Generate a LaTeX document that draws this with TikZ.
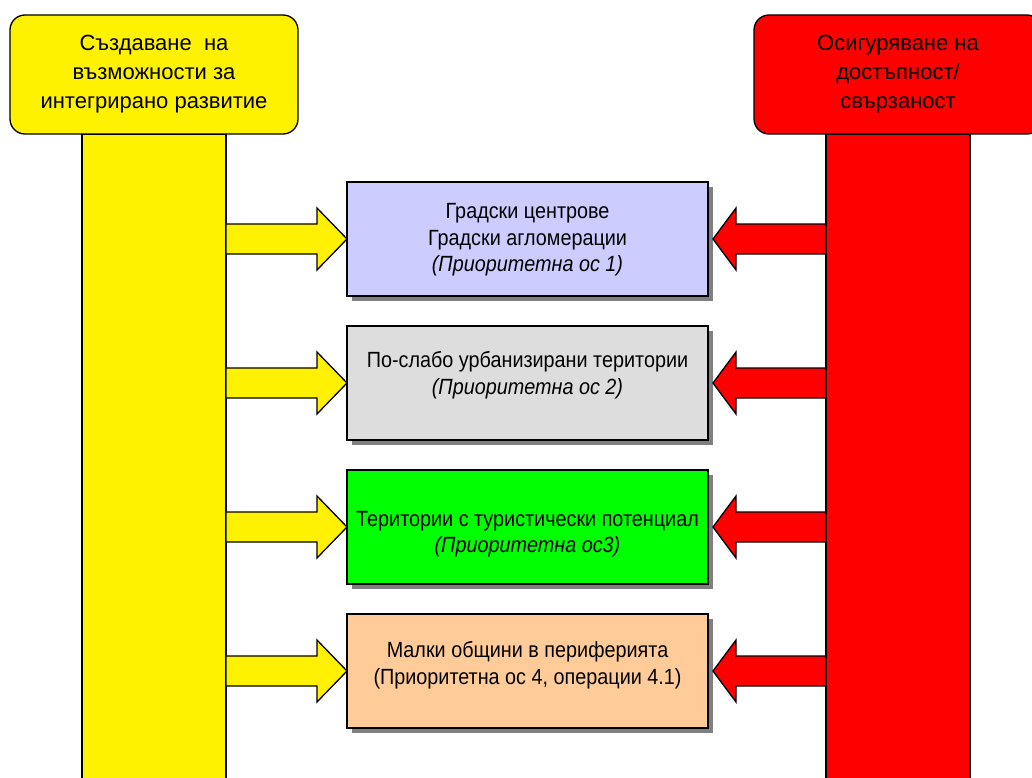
\documentclass[tikz,border=0pt]{standalone}
\usepackage{fontspec}
\setmainfont{Liberation Sans}
\newfontfamily\narrowsans[FakeStretch=0.9]{Liberation Sans}
\usetikzlibrary{calc,shadows}
\definecolor{boxA}{HTML}{CCCCFF}
\definecolor{boxB}{HTML}{DDDDDD}
\definecolor{boxC}{HTML}{00FF00}
\definecolor{boxD}{HTML}{FFCC99}
\definecolor{shade}{HTML}{808080}
\begin{document}
\begin{tikzpicture}[x=1pt,y=-1pt,
  outline/.style={draw=black,line width=1.3pt,line join=miter},
  headbox/.style={outline,rounded corners=15pt,minimum width=288pt,minimum height=119pt,outer sep=0pt,align=center,
     font=\fontsize{22}{29}\selectfont},
  barbox/.style={outline,minimum width=144pt,minimum height=680pt,anchor=north,outer sep=0pt},
  areabox/.style={outline,minimum width=361pt,minimum height=114pt,outer sep=0pt,
     drop shadow={shadow xshift=5pt,shadow yshift=-5pt,fill=shade,opacity=1}},
  areatext/.style={align=center,font=\narrowsans\fontsize{22}{26.5}\selectfont},
  yarr/.style={outline,fill=yellow},
  rarr/.style={outline,fill=red}]
\useasboundingbox (0,0) rectangle (1032,778);
\clip (0,0) rectangle (1032,778);
\fill[white] (0,0) rectangle (1032,778);

% bars
\node[barbox,fill=yellow] (lbar) at (154,134) {};
\node[barbox,fill=red] (rbar) at (898,134) {};

% headers
\node[headbox,fill=yellow] (lhead) at (154,74.5) {Създаване\ \ на\\възможности за\\интегрирано развитие};
\node[headbox,fill=red] (rhead) at (898,74.5) {Осигуряване на\\достъпност/\\свързаност};

% area boxes
\node[areabox,fill=boxA] (b1) at (527.5,239) {};
\node[areabox,fill=boxB] (b2) at (527.5,383) {};
\node[areabox,fill=boxC] (b3) at (527.5,527) {};
\node[areabox,fill=boxD] (b4) at (527.5,671) {};

\node[areatext] (t1) at (527.5,240) {Градски центрове\\Градски агломерации\\\textit{(Приоритетна ос 1)}};
\node[areatext] (t2) at (527.5,375) {По-слабо урбанизирани територии\\\textit{(Приоритетна ос 2)}};
\node[areatext] (t3) at (527.5,534) {Територии с туристически потенциал\\\textit{(Приоритетна ос3)}};
\node[areatext] (t4) at (527.5,665) {Малки общини в периферията\\(Приоритетна ос 4, операции 4.1)};

% arrows
\foreach \b in {b1,b2,b3,b4} {
  \draw[yarr] ($(lbar.east |- \b.west)+(0,-15)$) -- ($(\b.west)+(-30,-15)$) -- ($(\b.west)+(-30,-31)$)
     -- (\b.west) -- ($(\b.west)+(-30,31)$) -- ($(\b.west)+(-30,15)$) -- ($(lbar.east |- \b.west)+(0,15)$) -- cycle;
  \draw[rarr] ($(rbar.west |- \b.east)+(0,-15)$) -- ($(\b.east)+(28,-15)$) -- ($(\b.east)+(28,-31)$)
     -- ($(\b.east)+(5,0)$) -- ($(\b.east)+(28,31)$) -- ($(\b.east)+(28,15)$) -- ($(rbar.west |- \b.east)+(0,15)$) -- cycle;
}
\end{tikzpicture}
\end{document}
